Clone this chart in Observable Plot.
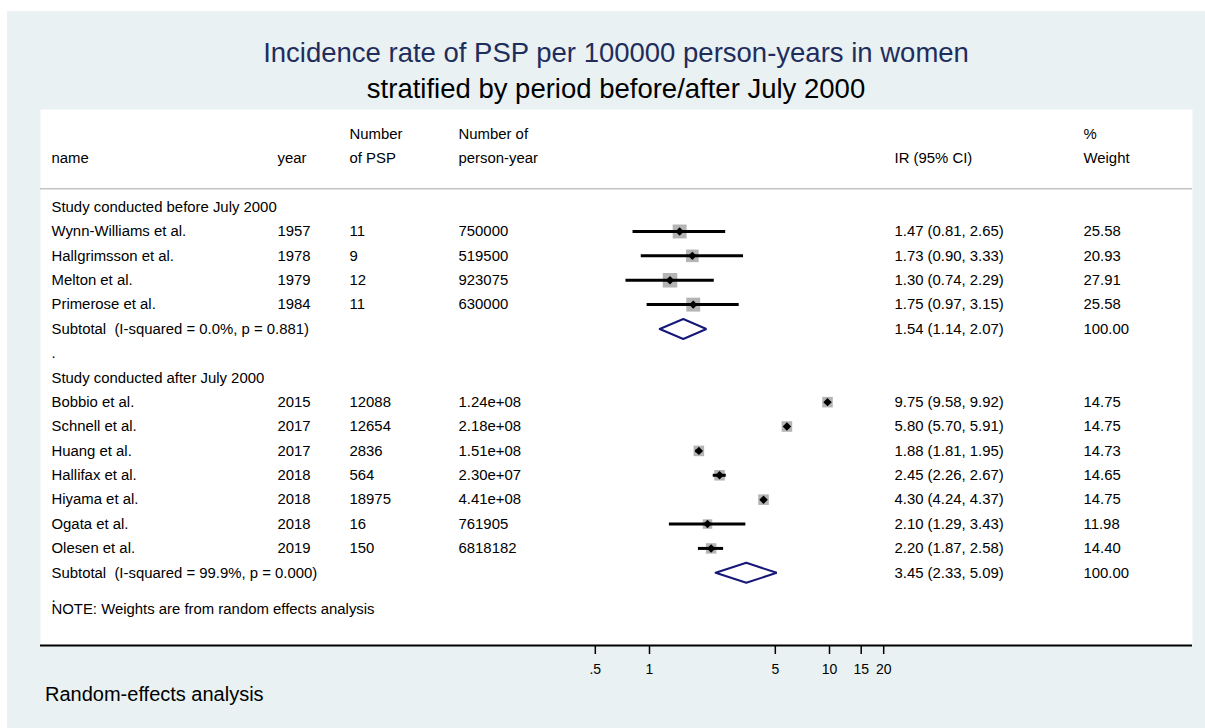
<!DOCTYPE html>
<html><head><meta charset="utf-8">
<script src="https://cdn.jsdelivr.net/npm/d3@7"></script>
<script src="https://cdn.jsdelivr.net/npm/@observablehq/plot@0.6"></script>
<style>
body{margin:0;background:#fff;font-family:"Liberation Sans",Arial,Helvetica,sans-serif;}
#bg{position:absolute;left:7px;top:11px;width:1198px;height:717px;background:#e9f1f3;}
.t{position:absolute;left:40px;width:1152px;text-align:center;font-size:27.5px;line-height:27.5px;white-space:nowrap;}
#t1{top:39px;color:#1f2d5c;}
#t2{top:75px;color:#000;}
#chart{position:absolute;left:40px;top:109px;}
#foot{position:absolute;left:45px;top:684px;font-size:20px;line-height:20px;color:#000;white-space:nowrap;}
</style></head><body>
<div id="bg"></div>
<div class="t" id="t1">Incidence rate of PSP per 100000 person-years in women</div>
<div class="t" id="t2">stratified by period before/after July 2000</div>
<div id="chart"></div>
<div id="foot">Random-effects analysis</div>
<script>
// ---------- data ----------
const groupLabels = ["Study conducted before July 2000", "Study conducted after July 2000"];
const studyNames = ["Wynn-Williams et al.", "Hallgrimsson et al.", "Melton et al.", "Primerose et al.",
  "Bobbio et al.", "Schnell et al.", "Huang et al.", "Hallifax et al.", "Hiyama et al.", "Ogata et al.", "Olesen et al."];
const studyGroup = [0, 0, 0, 0, 1, 1, 1, 1, 1, 1, 1];
const years = [1957, 1978, 1979, 1984, 2015, 2017, 2017, 2018, 2018, 2018, 2019];
const nPSP = ["11", "9", "12", "11", "12088", "12654", "2836", "564", "18975", "16", "150"];
const personYears = ["750000", "519500", "923075", "630000", "1.24e+08", "2.18e+08", "1.51e+08", "2.30e+07", "4.41e+08", "761905", "6818182"];
const ir = [1.47, 1.73, 1.30, 1.75, 9.75, 5.80, 1.88, 2.45, 4.30, 2.10, 2.20];
const ciLow = [0.81, 0.90, 0.74, 0.97, 9.58, 5.70, 1.81, 2.26, 4.24, 1.29, 1.87];
const ciHigh = [2.65, 3.33, 2.29, 3.15, 9.92, 5.91, 1.95, 2.67, 4.37, 3.43, 2.58];
const weights = [25.58, 20.93, 27.91, 25.58, 14.75, 14.75, 14.73, 14.65, 14.75, 11.98, 14.40];
const subtotalLabels = ["Subtotal  (I-squared = 0.0%, p = 0.881)", "Subtotal  (I-squared = 99.9%, p = 0.000)"];
const subIR = [1.54, 3.45];
const subLow = [1.14, 2.33];
const subHigh = [2.07, 5.09];
const subWeights = [100, 100];
const headerTop = ["", "", "Number", "Number of", "", "%"];
const headerBottom = ["name", "year", "of PSP", "person-year", "IR (95% CI)", "Weight"];
const separatorText = ".";
const noteText = "NOTE: Weights are from random effects analysis";
const xTickValues = [0.5, 1, 5, 10, 15, 20];
const xTickLabels = [".5", "1", "5", "10", "15", "20"];

// ---------- layout ----------
const W = 1152, H = 576, MB = 40;
const ROW_H = 24.38, ROW0 = 97.6;
const X1_PX = 609, DEC_PX = 180;
const TICK_PX = 9, TICKLABEL_DY = 24;
const cols = ["name", "year", "psp", "py", "ci", "w"];
const colDx = {name: 11, year: 237, psp: 309, py: 418, ci: 854, w: 1043};
const FONT = '"Liberation Sans", Arial, Helvetica, sans-serif';

const fmt = v => v.toFixed(2);
const ciText = (e, l, u) => `${fmt(e)} (${fmt(l)}, ${fmt(u)})`;

const rows = [], studies = [], subtotals = [];
const hdr = (r, arr) => { const o = {r}; cols.forEach((c, i) => o[c] = arr[i]); rows.push(o); };
hdr(-3, headerTop);
hdr(-2, headerBottom);
let r = 0;
groupLabels.forEach((g, gi) => {
  rows.push({r, name: g}); r++;
  studyNames.forEach((n, i) => {
    if (studyGroup[i] !== gi) return;
    const s = {r, name: n, year: String(years[i]), psp: nPSP[i], py: personYears[i],
      ci: ciText(ir[i], ciLow[i], ciHigh[i]), w: fmt(weights[i]),
      est: ir[i], lo: ciLow[i], hi: ciHigh[i], wt: weights[i]};
    rows.push(s); studies.push(s); r++;
  });
  const t = {r, name: subtotalLabels[gi], ci: ciText(subIR[gi], subLow[gi], subHigh[gi]), w: fmt(subWeights[gi]),
    est: subIR[gi], lo: subLow[gi], hi: subHigh[gi], g: gi};
  rows.push(t); subtotals.push(t); r++;
  rows.push({r, name: separatorText}); r++;
});
rows.push({r: r - 0.5, name: noteText});

const DH = 10 / ROW_H;
const diamondPts = subtotals.flatMap(s =>
  [[s.lo, s.r], [s.est, s.r - DH], [s.hi, s.r], [s.est, s.r + DH], [s.lo, s.r]]
    .map(([x, y]) => ({x, y, g: s.g})));

const yDomain = [-ROW0 / ROW_H, (H - MB - ROW0) / ROW_H];
const axisRow = yDomain[1];
const ticks = xTickValues.map((v, i) => ({v, label: xTickLabels[i]}));

const textCol = key => Plot.text(rows.filter(d => d[key]), {
  y: "r", text: key, frameAnchor: "left", textAnchor: "start", dx: colDx[key], fill: "black"
});

const chart = Plot.plot({
  width: W, height: H,
  marginTop: 0, marginRight: 0, marginBottom: MB, marginLeft: 0,
  style: {background: "none", fontFamily: FONT, fontSize: "14.9px", color: "black", overflow: "visible"},
  x: {type: "log", domain: [10 ** (-X1_PX / DEC_PX), 10 ** ((W - X1_PX) / DEC_PX)], axis: null},
  y: {domain: yDomain, reverse: true, axis: null},
  r: {type: "sqrt", domain: [0, 100], range: [0, 27.5 / Math.sqrt(Math.PI)]},
  marks: [
    Plot.frame({fill: "white", stroke: "none"}),
    Plot.ruleY([-0.75], {stroke: "#c4c4c4", strokeWidth: 1.5}),
    ...cols.map(textCol),
    Plot.dot(studies, {x: "est", y: "r", r: "wt", symbol: "square", fill: "#b4b4b4"}),
    Plot.ruleY(studies, {y: "r", x1: "lo", x2: "hi", stroke: "black", strokeWidth: 3}),
    Plot.dot(studies, {x: "est", y: "r", r: 3.8, symbol: "diamond2", fill: "black"}),
    Plot.line(diamondPts, {x: "x", y: "y", z: "g", stroke: "#17177a", strokeWidth: 2, strokeLinejoin: "miter"}),
    Plot.ruleX(ticks, {x: "v", y1: axisRow, y2: axisRow + TICK_PX / ROW_H, stroke: "black", strokeWidth: 1.5}),
    Plot.ruleY([axisRow], {stroke: "black", strokeWidth: 2}),
    Plot.text(ticks, {x: "v", y: axisRow, text: "label", dy: TICKLABEL_DY, fontSize: 14, fill: "black"})
  ]
});
document.getElementById("chart").appendChild(chart);
</script>
</body></html>
